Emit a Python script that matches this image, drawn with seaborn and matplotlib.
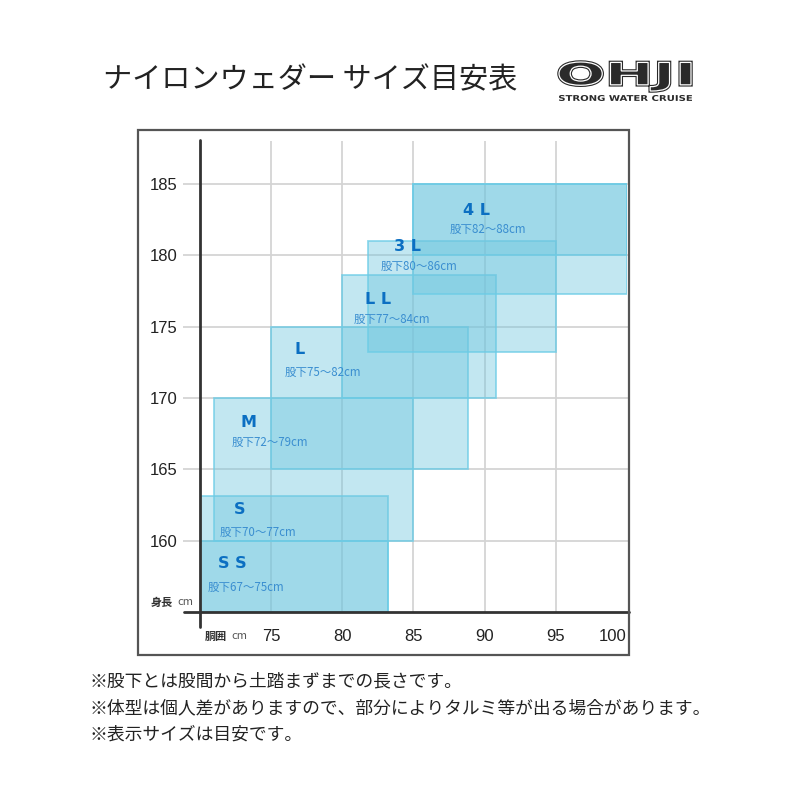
import matplotlib
matplotlib.use("Agg")
import matplotlib.pyplot as plt
import seaborn as sns
import pandas as pd
from matplotlib.patches import Rectangle, PathPatch
from matplotlib.textpath import TextPath
from matplotlib.font_manager import FontProperties
from matplotlib.transforms import Affine2D

# ---------------- data ----------------
sizes = ["SS", "S", "M", "L", "LL", "3L", "4L"]
size_labels = ["S S", "S", "M", "L", "L L", "3 L", "4 L"]
inseam_labels = ["股下67～75cm", "股下70～77cm", "股下72～79cm", "股下75～82cm",
                 "股下77～84cm", "股下80～86cm", "股下82～88cm"]
waist_lo = [70, 70, 71, 75, 80, 81.8, 85]
waist_hi = [83.2, 83.2, 85, 88.8, 90.8, 95, 100]
height_lo = [155, 155, 160, 165, 170, 173.2, 177.3]
height_hi = [160, 163.1, 170, 175, 178.6, 181, 185]
# extra darker band drawn over the 4L box
band_waist_lo = [85]
band_waist_hi = [100]
band_height_lo = [180]
band_height_hi = [185]

x_ticks = [75, 80, 85, 90, 95, 100]
y_ticks = [160, 165, 170, 175, 180, 185]

title = "ナイロンウェダー サイズ目安表"
notes = ["※股下とは股間から土踏まずまでの長さです。",
         "※体型は個人差がありますので、部分によりタルミ等が出る場合があります。",
         "※表示サイズは目安です。"]

# layout of labels (data coords)
label_pos = [(72.3, 158.4), (72.8, 162.15), (73.4, 168.3), (77.0, 173.4),
             (82.5, 176.9), (84.6, 180.6), (89.4, 183.1)]
sub_pos = [(73.25, 156.75), (74.1, 160.6), (74.9, 166.85), (78.6, 171.8),
           (83.5, 175.5), (85.4, 179.2), (90.2, 181.8)]

df = pd.DataFrame({"size": sizes, "w0": waist_lo, "w1": waist_hi,
                   "h0": height_lo, "h1": height_hi})

# ---------------- style ----------------
sns.set_theme(style="white")
plt.rcParams["font.family"] = ["Noto Sans CJK JP", "DejaVu Sans"]

fig = plt.figure(figsize=(8, 8), dpi=100)
fig.patch.set_facecolor("white")

W, H = 800.0, 800.0
def fx(px):
    return px / W
def fy(py):
    return 1 - py / H

ax = fig.add_axes([fx(200), fy(612), (627 - 200) / W, (612 - 141) / H])
ax.set_xlim(70, 100)
ax.set_ylim(155, 188)
ax.set_facecolor("none")
sns.despine(ax=ax, left=True, bottom=True)

grid_c = "#d4d4d4"
for xv in x_ticks[:-1]:
    ax.axvline(xv, color=grid_c, lw=1.3, zorder=0)
for yv in y_ticks:
    ax.axhline(yv, xmin=0, xmax=1.005, color=grid_c, lw=1.3, zorder=0, clip_on=False)

fill_c = (0.435, 0.775, 0.87, 0.42)
edge_c = (0.42, 0.80, 0.90, 0.75)
for _, r in df.iterrows():
    ax.add_patch(Rectangle((r.w0, r.h0), r.w1 - r.w0, r.h1 - r.h0,
                           facecolor=fill_c, edgecolor=edge_c, lw=1.3, zorder=2))
for w0, w1, h0, h1 in zip(band_waist_lo, band_waist_hi, band_height_lo, band_height_hi):
    ax.add_patch(Rectangle((w0, h0), w1 - w0, h1 - h0,
                           facecolor=fill_c, edgecolor=edge_c, lw=1.3, zorder=2))

for lab, (lx, ly) in zip(size_labels, label_pos):
    ax.text(lx, ly, lab, ha="center", va="center", fontsize=11.5,
            fontweight="bold", color="#0b6fc2", family=["DejaVu Sans"], zorder=5)
for lab, (lx, ly) in zip(inseam_labels, sub_pos):
    ax.text(lx, ly, lab, ha="center", va="center", fontsize=8.3,
            color="#3a8ed0", zorder=5)

# axis lines
ax.axvline(70, ymin=-0.032, ymax=1.002, color="#333333", lw=2, clip_on=False, zorder=6)
ax.axhline(155, xmin=-0.037, xmax=1.005, color="#333333", lw=2, clip_on=False, zorder=6)

tick_font = ["Liberation Sans Narrow", "Liberation Sans", "DejaVu Sans"]
ax.set_yticks(y_ticks)
ax.set_yticklabels([str(v) for v in y_ticks], family=tick_font, fontsize=12, color="#222222")
ax.tick_params(axis="y", length=12.2, width=1.3, color=grid_c, pad=4.3, left=True)
ax.set_xticks(x_ticks)
xt = ax.set_xticklabels([str(v) for v in x_ticks], family=tick_font, fontsize=12, color="#222222")
xt[-1].set_ha("right")
ax.tick_params(axis="x", length=0, pad=12)
ax.grid(False)

# axis unit labels
fig.text(fx(151), fy(602), "身長", fontsize=8, fontweight="bold", color="#333333", va="center", ha="left")
fig.text(fx(177), fy(602), "cm", fontsize=8, color="#555555", va="center", ha="left")
fig.text(fx(205), fy(636), "胴囲", fontsize=8, fontweight="bold", color="#333333", va="center", ha="left")
fig.text(fx(231), fy(636), "cm", fontsize=8, color="#555555", va="center", ha="left")

# frame
fig.add_artist(Rectangle((fx(138), fy(655)), (629 - 138) / W, (655 - 130) / H,
                         transform=fig.transFigure, fill=False, edgecolor="#555555", lw=1.6))

# title
fig.text(fx(103), fy(80), title, fontsize=21, color="#222222", va="center", ha="left")

# logo
def path_in_box(text, x0, y0, x1, y1, weight="bold"):
    tp = TextPath((0, 0), text, size=1, prop=FontProperties(family="DejaVu Sans", weight=weight))
    ext = tp.get_extents()
    tr = (Affine2D().translate(-ext.x0, -ext.y0)
          .scale((fx(x1) - fx(x0)) / ext.width, (fy(y0) - fy(y1)) / ext.height)
          .translate(fx(x0), fy(y1)))
    return tr.transform_path(tp)

p = path_in_box("OHJI", 559, 62, 691, 91)
fig.add_artist(PathPatch(p, facecolor="#2a2a2a", edgecolor="#2a2a2a", lw=2.5, transform=fig.transFigure))
fig.add_artist(PathPatch(p, facecolor="none", edgecolor="white", lw=0.9, transform=fig.transFigure))
p2 = path_in_box("STRONG WATER CRUISE", 559, 95, 692, 101)
fig.add_artist(PathPatch(p2, facecolor="#2a2a2a", edgecolor="none", transform=fig.transFigure))

# notes
for i, t in enumerate(notes):
    fig.text(fx(90), fy(681 + 27 * i), t, fontsize=12.8, color="#222222", va="center", ha="left")

fig.savefig("out.png", dpi=100, facecolor="white")
